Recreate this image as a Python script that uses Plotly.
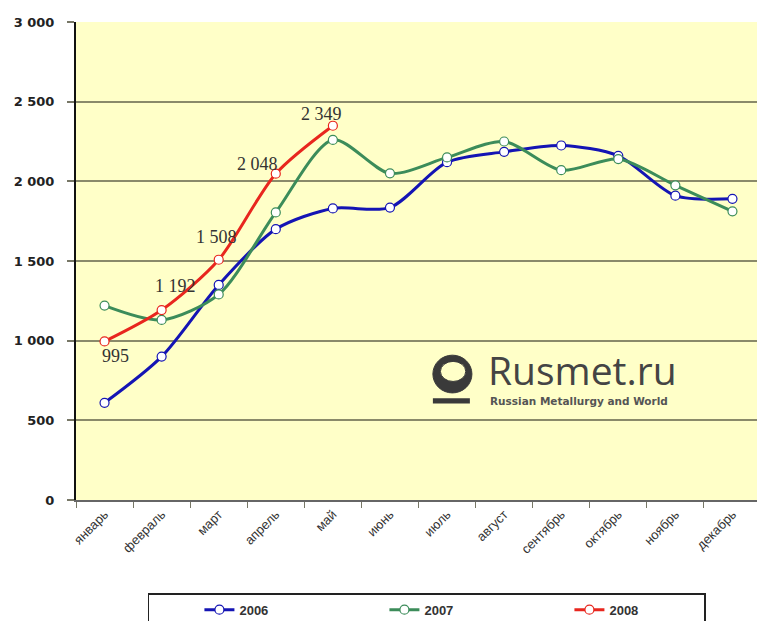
import plotly.graph_objects as go

months = ["январь", "февраль", "март", "апрель", "май", "июнь", "июль",
          "август", "сентябрь", "октябрь", "ноябрь", "декабрь"]
y2006 = [610, 900, 1350, 1700, 1830, 1835, 2120, 2185, 2225, 2160, 1910, 1890]
y2007 = [1220, 1130, 1290, 1805, 2260, 2050, 2150, 2250, 2070, 2140, 1975, 1812]
y2008 = [995, 1192, 1508, 2048, 2349]
y_ticks = [0, 500, 1000, 1500, 2000, 2500, 3000]

# pixel offsets of the 2008 value labels relative to their points
label_dx = [11, 14, -2, -18, -11]
label_dy = [-15, 24, 23, 10, 12]

fig = go.Figure()

def add_series(name, y, color):
    fig.add_trace(go.Scatter(
        x=months[:len(y)], y=y, name=name, mode="lines+markers",
        line=dict(color=color, width=3, shape="spline", smoothing=0.8),
        marker=dict(symbol="circle", size=9, color="white",
                    line=dict(color=color, width=1.2))))

add_series("2006", y2006, "#1414b4")
add_series("2007", y2007, "#3c8c5a")
add_series("2008", y2008, "#e8261e")

for m, v, dx, dy in zip(months, y2008, label_dx, label_dy):
    fig.add_annotation(x=m, y=v, text=f"{v:,}".replace(",", " "), showarrow=False,
                       xshift=dx, yshift=dy, xanchor="center", yanchor="middle",
                       font=dict(family="Liberation Serif", size=18, color="#333333"))

# watermark
fig.add_annotation(text="Rusmet.ru", xref="paper", yref="paper", x=0.598, y=0.272,
                   xanchor="left", yanchor="middle", showarrow=False,
                   font=dict(family="Open Sans", size=39, color="#444444"))
fig.add_annotation(text="<b>Russian Metallurgy and World</b>", xref="paper", yref="paper",
                   x=0.601, y=0.207, xanchor="left", yanchor="middle", showarrow=False,
                   font=dict(family="DejaVu Sans", size=10.5, color="#555555"))
fig.add_shape(type="circle", xref="paper", yref="paper",
              x0=0.521, x1=0.578, y0=0.224, y1=0.303,
              fillcolor="#3a3a3a", line=dict(color="#3a3a3a", width=1))
fig.add_shape(type="circle", xref="paper", yref="paper",
              x0=0.532, x1=0.569, y0=0.248, y1=0.29,
              fillcolor="#ffffc8", line=dict(color="#3a3a3a", width=1))
fig.add_shape(type="rect", xref="paper", yref="paper",
              x0=0.521, x1=0.575, y0=0.202, y1=0.213,
              fillcolor="#3a3a3a", line=dict(width=0))
# right border of plot area
fig.add_shape(type="line", xref="paper", yref="paper", x0=1, x1=1, y0=0, y1=1,
              line=dict(color="#8a8a6a", width=2))

fig.update_layout(
    width=765, height=621,
    margin=dict(l=68, r=12, t=14, b=129, autoexpand=False),
    paper_bgcolor="white", plot_bgcolor="#ffffc8",
    font=dict(family="Liberation Sans", color="#222222"),
    separators=", ",
    showlegend=True,
    legend=dict(orientation="h", x=0.105, y=-0.195, xanchor="left", yanchor="top",
                bordercolor="#222222", borderwidth=1.5, bgcolor="white",
                entrywidth=90, entrywidthmode="pixels", indentation=50,
                font=dict(family="Liberation Sans", size=13, color="#333333", weight="bold")),
    xaxis=dict(type="category", range=[-0.5, 11.5], tickangle=-45, ticks="outside", ticklen=6,
               tickson="boundaries", tickcolor="#777766",
               showline=True, linecolor="#666666", linewidth=1.5,
               showgrid=False, automargin=False,
               tickfont=dict(family="Liberation Sans", size=13, color="#333333")),
    yaxis=dict(range=[0, 3000], tickvals=y_ticks, tickformat=",d",
               ticks="outside", ticklen=7, tickcolor="#777766", tickwidth=1.5,
               ticklabelstandoff=10,
               showline=True, linecolor="#111111", linewidth=2,
               showgrid=True, gridcolor="#8a8a6a", gridwidth=1.5,
               zeroline=False, automargin=False,
               tickfont=dict(family="DejaVu Sans", size=13, color="#222222",
                             weight="bold")),
)

fig.write_html("out.html")
